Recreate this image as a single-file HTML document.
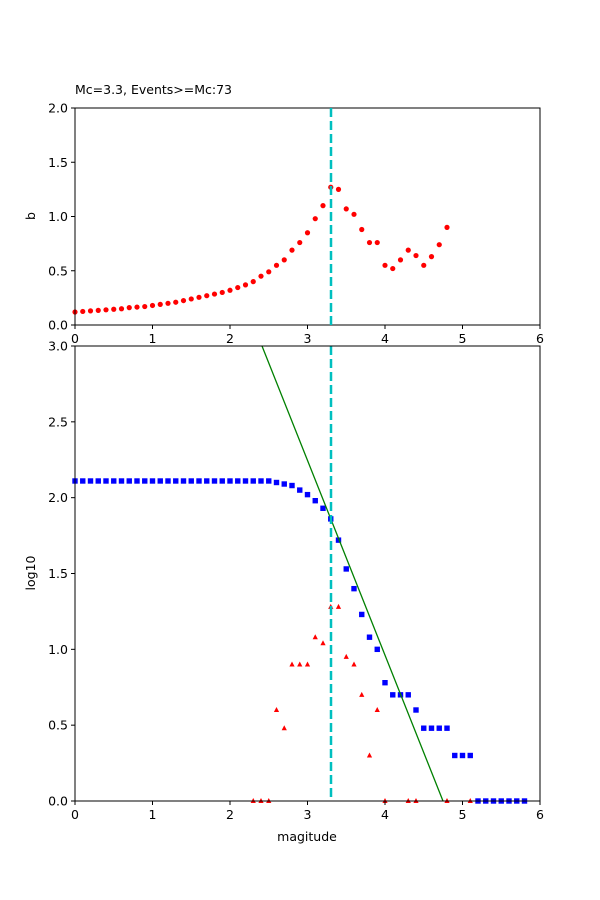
<!DOCTYPE html>
<html><head><meta charset="utf-8"><style>body{margin:0;background:#fff}svg{display:block;font-family:"DejaVu Sans","Liberation Sans",sans-serif}</style></head>
<body>
<svg id="s" width="600" height="900" xmlns="http://www.w3.org/2000/svg"></svg>
<script>
const s=document.getElementById('s');let h='';
const X=m=>75+m*77.5;
const Y1=v=>325-v*108.5;
const Y2=v=>801-v*151.667;
// top axes
h+='<text x="75" y="94" font-size="12.5">Mc=3.3, Events&gt;=Mc:73</text>';
const b=[0.12,0.125,0.13,0.135,0.14,0.145,0.15,0.16,0.165,0.17,0.18,0.19,0.2,0.21,0.225,0.24,0.255,0.27,0.285,0.3,0.32,0.345,0.37,0.4,0.45,0.49,0.55,0.6,0.69,0.76,0.85,0.98,1.1,1.27,1.25,1.07,1.02,0.88,0.76,0.76,0.55,0.52,0.6,0.69,0.64,0.55,0.63,0.74,0.9];
b.forEach((v,i)=>{h+=`<circle cx="${X(i/10)}" cy="${Y1(v)}" r="2.6" fill="red"/>`});
h+=`<rect x="75" y="108" width="465" height="217" fill="none" stroke="#000" stroke-width="1"/>`;
for(let i=0;i<=6;i++){h+=`<line x1="${X(i)}" y1="325" x2="${X(i)}" y2="329" stroke="#000"/><text x="${X(i)}" y="343" font-size="12.5" text-anchor="middle">${i}</text>`}
[0,0.5,1,1.5,2].forEach(v=>{h+=`<line x1="71" y1="${Y1(v)}" x2="75" y2="${Y1(v)}" stroke="#000"/><text x="68" y="${Y1(v)+4.5}" font-size="12.5" text-anchor="end">${v.toFixed(1)}</text>`});
h+=`<text transform="translate(35,216) rotate(-90)" font-size="12.5" text-anchor="middle">b</text>`;
h+=`<line x1="331" y1="108" x2="331" y2="325" stroke="#00bfbf" stroke-width="2.5" stroke-dasharray="9,4"/>`;
// bottom axes
h+='<rect x="75" y="346" width="465" height="455" fill="#fff"/>';
const bl=[];for(let i=0;i<=24;i++)bl.push(2.11);
bl.push(2.11,2.10,2.09,2.08,2.05,2.02,1.98,1.93,1.86,1.72,1.53,1.40,1.23,1.08,1.0,0.78,0.70,0.70,0.70,0.60,0.48,0.48,0.48,0.48,0.30,0.30,0.30,0,0,0,0,0,0,0);
bl.forEach((v,i)=>{h+=`<rect x="${X(i/10)-2.7}" y="${Y2(v)-2.7}" width="5.4" height="5.4" fill="blue"/>`});
const tr=[[2.3,0],[2.4,0],[2.5,0],[2.6,0.6],[2.7,0.48],[2.8,0.9],[2.9,0.9],[3.0,0.9],[3.1,1.08],[3.2,1.04],[3.3,1.28],[3.4,1.28],[3.5,0.95],[3.6,0.9],[3.7,0.7],[3.8,0.3],[3.9,0.6],[4.0,0],[4.3,0],[4.4,0],[4.8,0],[5.1,0]];
tr.forEach(([m,v])=>{const x=X(m),y=Y2(v);h+=`<polygon points="${x},${y-3} ${x-2.6},${y+2} ${x+2.6},${y+2}" fill="red"/>`});
h+=`<line x1="262" y1="346" x2="443" y2="801" stroke="green" stroke-width="1.3"/>`;
h+=`<line x1="331" y1="346" x2="331" y2="801" stroke="#00bfbf" stroke-width="2.5" stroke-dasharray="9,4"/>`;
h+=`<rect x="75" y="346" width="465" height="455" fill="none" stroke="#000" stroke-width="1"/>`;
for(let i=0;i<=6;i++){h+=`<line x1="${X(i)}" y1="801" x2="${X(i)}" y2="805" stroke="#000"/><text x="${X(i)}" y="819" font-size="12.5" text-anchor="middle">${i}</text>`}
[0,0.5,1,1.5,2,2.5,3].forEach(v=>{h+=`<line x1="71" y1="${Y2(v)}" x2="75" y2="${Y2(v)}" stroke="#000"/><text x="68" y="${Y2(v)+4.5}" font-size="12.5" text-anchor="end">${v.toFixed(1)}</text>`});
h+=`<text x="307" y="841" font-size="12.5" text-anchor="middle">magitude</text>`;
h+=`<text transform="translate(35,573) rotate(-90)" font-size="12.5" text-anchor="middle">log10</text>`;
s.innerHTML=h;
</script>
</body></html>
